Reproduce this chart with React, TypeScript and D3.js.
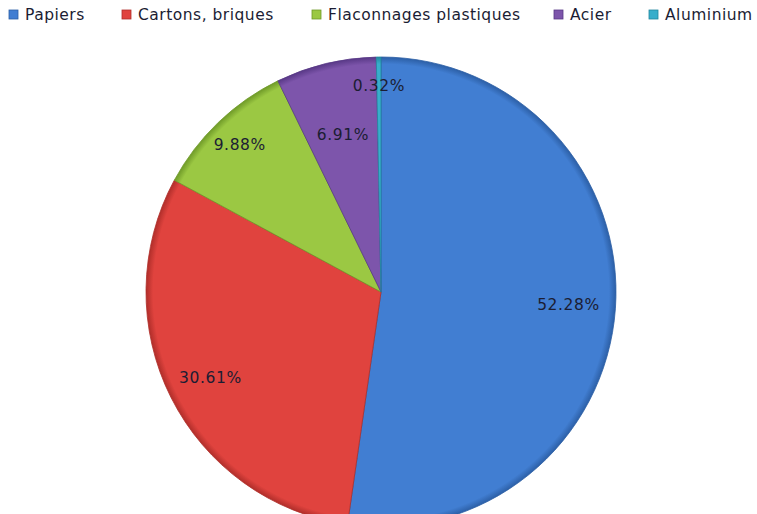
import React from "react";
import * as d3 from "d3";

const categories = ["Papiers", "Cartons, briques", "Flaconnages plastiques", "Acier", "Aluminium"];
const values = [52.28, 30.61, 9.88, 6.91, 0.32];
const labels = ["52.28%", "30.61%", "9.88%", "6.91%", "0.32%"];
const colors = ["#417ed2", "#e0433e", "#9bc843", "#7d55ab", "#38aecb"];
const edgeColors = ["#2c5fa6", "#b02e2a", "#6f9a28", "#583886", "#22879f"];

const W = 757;
const H = 514;
const cx = 381;
const cy = 292;
const R = 235;
const labelRadius = [188, 191, 204, 162, 206];
const legendX = [9, 122, 312, 554, 649];

export default function App() {
  const pie = d3.pie<number>().sort(null).value((d) => d);
  const arcs = pie(values);
  const arc = d3.arc<d3.PieArcDatum<number>>().innerRadius(0).outerRadius(R);

  return (
    <svg
      width={W}
      height={H}
      style={{ position: "absolute", left: 0, top: 0, background: "#fff" }}
      fontFamily="DejaVu Sans, sans-serif"
    >
      <defs>
        {colors.map((c, i) => (
          <radialGradient key={i} id={`g${i}`} cx={0} cy={0} r={R} gradientUnits="userSpaceOnUse">
            <stop offset="0%" stopColor={c} />
            <stop offset="97%" stopColor={c} />
            <stop offset="100%" stopColor={edgeColors[i]} />
          </radialGradient>
        ))}
      </defs>
      <rect width={W} height={H} fill="#fff" />
      <g transform={`translate(${cx},${cy})`}>
        {arcs.map((a, i) => (
          <path key={i} d={arc(a) || ""} fill={`url(#g${i})`} stroke={edgeColors[i]} strokeWidth={0.8} />
        ))}
        {arcs.map((a, i) => {
          const mid = (a.startAngle + a.endAngle) / 2;
          const r = labelRadius[i];
          const x = Math.sin(mid) * r;
          const y = -Math.cos(mid) * r;
          return (
            <text
              key={i}
              x={x}
              y={y}
              textAnchor="middle"
              dominantBaseline="central"
              fontSize={15.5}
              letterSpacing={0.6}
              fill="#1b1d33"
            >
              {labels[i]}
            </text>
          );
        })}
      </g>
      <g>
        {categories.map((c, i) => (
          <g key={i} transform={`translate(${legendX[i]},0)`}>
            <rect x={0} y={10} width={9} height={9} fill={colors[i]} stroke={edgeColors[i]} strokeWidth={0.8} />
            <text x={16} y={15} dominantBaseline="central" fontSize={15.5} letterSpacing={0.5} fill="#1b1d33">
              {c}
            </text>
          </g>
        ))}
      </g>
    </svg>
  );
}
